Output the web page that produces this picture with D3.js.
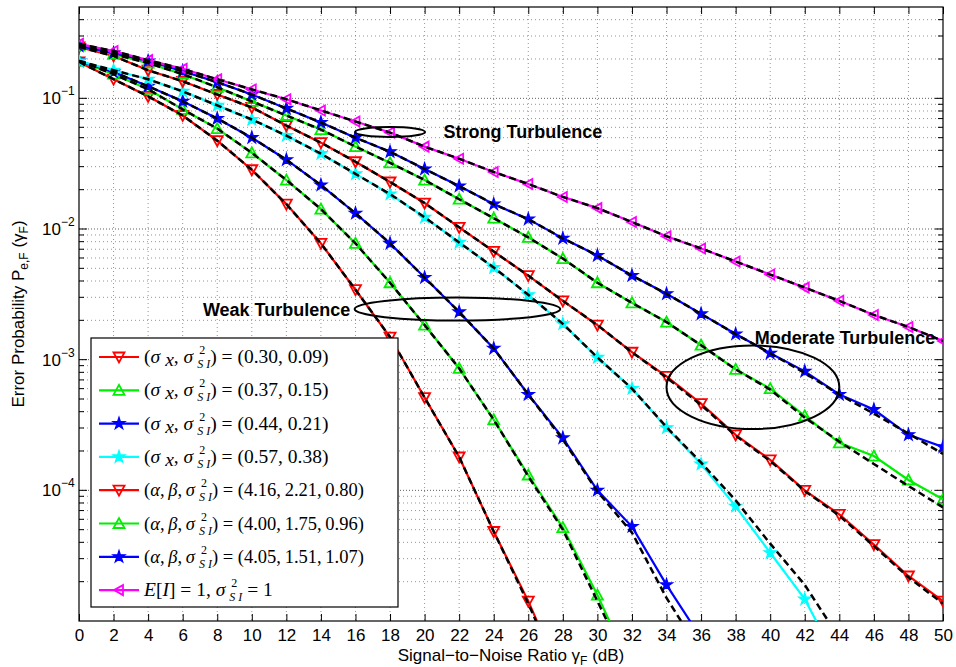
<!DOCTYPE html>
<html>
<head>
<meta charset="utf-8">
<script src="https://d3js.org/d3.v7.min.js"></script>
<style>
  body { margin: 0; background: #fff; }
  text { font-family: "Liberation Sans", Arial, sans-serif; fill: #000; }
  .grid line { stroke: #7a7a7a; stroke-width: 0.8; stroke-dasharray: 1,3; }
  .grid line.major { stroke: #333; stroke-dasharray: 1,2; }
  .tick line { stroke: #000; }
  .legend text { font-family: "Liberation Serif", "DejaVu Serif", serif; }
</style>
</head>
<body>
<div id="chartHere"></div>
<script>

// SNR grid (dB)
var snr = [0, 2, 4, 6, 8, 10, 12, 14, 16, 18, 20, 22, 24, 26, 28, 30, 32, 34, 36, 38, 40, 42, 44, 46, 48, 50];

// simulated error probability
var lnRed   = [0.190, 0.140, 0.1036, 0.0739, 0.0474, 0.0284, 0.0155, 0.00776, 0.00343, 0.00149, 0.000513, 0.000180, 0.0000484, 0.0000142, 0.0000035];
var lnGreen = [0.193, 0.153, 0.1173, 0.0823, 0.0587, 0.0383, 0.0237, 0.0142, 0.00776, 0.00388, 0.00184, 0.000859, 0.000347, 0.000131, 0.0000519, 0.0000158, 0.0000042];
var lnBlue  = [0.193, 0.159, 0.1237, 0.0948, 0.0701, 0.0500, 0.0339, 0.0217, 0.0132, 0.00776, 0.00425, 0.00232, 0.00122, 0.000541, 0.000252, 0.000100, 0.0000528, 0.0000189, 0.0000074];
var lnCyan  = [0.193, 0.164, 0.140, 0.113, 0.0883, 0.0689, 0.0519, 0.0377, 0.0264, 0.0185, 0.0123, 0.00789, 0.00507, 0.00314, 0.00188, 0.00104, 0.000601, 0.000301, 0.000159, 0.0000754, 0.0000333, 0.0000147, 0.0000046];
var ggRed   = [0.247, 0.211, 0.164, 0.135, 0.107, 0.0852, 0.0619, 0.0458, 0.0327, 0.0229, 0.0158, 0.0103, 0.00673, 0.00440, 0.00282, 0.00184, 0.00114, 0.000745, 0.000461, 0.000266, 0.000171, 0.000100, 0.0000655, 0.0000384, 0.0000221, 0.0000142];
var ggGreen = [0.252, 0.218, 0.186, 0.153, 0.1216, 0.0948, 0.0739, 0.0577, 0.0427, 0.0321, 0.0237, 0.0169, 0.0121, 0.00863, 0.00594, 0.00388, 0.00272, 0.00194, 0.00129, 0.000843, 0.000601, 0.000372, 0.000231, 0.000183, 0.000120, 0.0000853];
var ggBlue  = [0.252, 0.222, 0.193, 0.161, 0.133, 0.107, 0.0837, 0.0653, 0.0500, 0.0390, 0.0288, 0.0213, 0.0155, 0.0119, 0.00848, 0.00627, 0.00440, 0.00319, 0.00224, 0.00157, 0.00112, 0.000814, 0.000541, 0.000415, 0.000266, 0.000215];
var negExp  = [0.261, 0.230, 0.196, 0.168, 0.140, 0.117, 0.0985, 0.0808, 0.0665, 0.0547, 0.0427, 0.0345, 0.0273, 0.0221, 0.0176, 0.01445, 0.0113, 0.0088, 0.0071, 0.00564, 0.00448, 0.00356, 0.00282, 0.0022, 0.00178, 0.00139];

// analytical approximations (black dashed)
var lnRedApprox   = [0.190, 0.140, 0.1036, 0.0739, 0.0474, 0.0284, 0.0155, 0.00776, 0.00343, 0.00149, 0.000513, 0.000180, 0.0000484, 0.0000136, 0.0000034];
var lnGreenApprox = [0.193, 0.153, 0.1173, 0.0823, 0.0587, 0.0383, 0.0237, 0.0142, 0.00776, 0.00388, 0.00184, 0.000859, 0.000347, 0.000128, 0.0000500, 0.0000142, 0.0000040];
var lnBlueApprox  = [0.193, 0.159, 0.1237, 0.0948, 0.0701, 0.0500, 0.0339, 0.0217, 0.0132, 0.00776, 0.00425, 0.00232, 0.00122, 0.000541, 0.000245, 0.0000980, 0.0000475, 0.0000150, 0.0000057];
var lnCyanApprox  = [0.193, 0.164, 0.140, 0.113, 0.0883, 0.0689, 0.0519, 0.0377, 0.0264, 0.0185, 0.0123, 0.00789, 0.00507, 0.00314, 0.00188, 0.00104, 0.000601, 0.000305, 0.000163, 0.0000839, 0.0000391, 0.0000189, 0.0000074];
var ggRedApprox   = [0.247, 0.211, 0.164, 0.135, 0.107, 0.0852, 0.0619, 0.0458, 0.0327, 0.0229, 0.0158, 0.0103, 0.00673, 0.00440, 0.00282, 0.00184, 0.00114, 0.000730, 0.000450, 0.000262, 0.000168, 0.0000990, 0.0000640, 0.0000375, 0.0000216, 0.0000136];
var ggGreenApprox = [0.252, 0.218, 0.186, 0.153, 0.1216, 0.0948, 0.0739, 0.0577, 0.0427, 0.0321, 0.0237, 0.0169, 0.0121, 0.00863, 0.00594, 0.00388, 0.00272, 0.00194, 0.00129, 0.000843, 0.000590, 0.000360, 0.000236, 0.000159, 0.000108, 0.0000741];
var ggBlueApprox  = [0.252, 0.222, 0.193, 0.161, 0.133, 0.107, 0.0837, 0.0653, 0.0500, 0.0390, 0.0288, 0.0213, 0.0155, 0.0119, 0.00848, 0.00627, 0.00440, 0.00319, 0.00224, 0.00157, 0.00112, 0.000790, 0.000541, 0.000386, 0.000272, 0.000190];
var negExpApprox  = [0.261, 0.230, 0.196, 0.168, 0.140, 0.117, 0.0985, 0.0808, 0.0665, 0.0547, 0.0427, 0.0345, 0.0273, 0.0221, 0.0176, 0.01445, 0.0113, 0.0088, 0.0071, 0.00564, 0.00448, 0.00356, 0.00282, 0.0022, 0.00178, 0.00139];

// axis ticks
var xTicks = [0, 2, 4, 6, 8, 10, 12, 14, 16, 18, 20, 22, 24, 26, 28, 30, 32, 34, 36, 38, 40, 42, 44, 46, 48, 50];
var yTicks = [1e-1, 1e-2, 1e-3, 1e-4];
var yTickExp = ["\u22121", "\u22122", "\u22123", "\u22124"];

// legend parameter strings
var lnParams = ["(0.30, 0.09)", "(0.37, 0.15)", "(0.44, 0.21)", "(0.57, 0.38)"];
var ggParams = ["(4.16,\u20092.21,\u20090.80)", "(4.00,\u20091.75,\u20090.96)", "(4.05,\u20091.51,\u20091.07)"];

// annotation ellipses: centre [dB, Pe], x radius in dB, y radius in decades
var regions = [
  { name: "Strong Turbulence",   cx: 18.0, cy: 0.0553,  rx: 2.03, ry: 0.038, tx: 21.1, ty: 0.0498,  anchor: "start" },
  { name: "Weak Turbulence",     cx: 21.9, cy: 0.00244, rx: 5.95, ry: 0.088, tx: 15.7, ty: 0.00215, anchor: "end" },
  { name: "Moderate Turbulence", cx: 39.0, cy: 0.000615, rx: 5.0, ry: 0.32,  tx: 39.1, ty: 0.00132, anchor: "start" }
];

var series = [
  { vals: lnRed,   approx: lnRedApprox,   color: "#ff0000", marker: "down" },
  { vals: lnGreen, approx: lnGreenApprox, color: "#00ee00", marker: "up" },
  { vals: lnBlue,  approx: lnBlueApprox,  color: "#0000ff", marker: "star" },
  { vals: lnCyan,  approx: lnCyanApprox,  color: "#00ffff", marker: "star" },
  { vals: ggRed,   approx: ggRedApprox,   color: "#ff0000", marker: "down" },
  { vals: ggGreen, approx: ggGreenApprox, color: "#00ee00", marker: "up" },
  { vals: ggBlue,  approx: ggBlueApprox,  color: "#0000ff", marker: "star" },
  { vals: negExp,  approx: negExpApprox,  color: "#ff00ff", marker: "left" }
];

var W = 956, H = 667;
var box = { left: 79, right: 943, top: 7, bottom: 621 };

var svg = d3.select("#chartHere").append("svg")
    .attr("width", W).attr("height", H);

var x = d3.scaleLinear().domain([0, 50]).range([box.left, box.right]);
var y = d3.scaleLog().domain([1e-5, 0.5]).range([box.bottom, box.top]);

svg.append("clipPath").attr("id", "plotClip")
  .append("rect")
    .attr("x", box.left).attr("y", box.top)
    .attr("width", box.right - box.left).attr("height", box.bottom - box.top);

// ---- grid
var grid = svg.append("g").attr("class", "grid");
var minor = y.ticks().filter(function (d) { return d > 1e-5 && d < 0.5; });
grid.selectAll("line.h").data(minor).enter().append("line")
    .attr("class", function (d) { return yTicks.indexOf(d) >= 0 ? "h major" : "h"; })
    .attr("x1", box.left).attr("x2", box.right)
    .attr("y1", function (d) { return y(d); }).attr("y2", function (d) { return y(d); });
grid.selectAll("line.v").data(xTicks.slice(1, -1)).enter().append("line")
    .attr("class", "v")
    .attr("x1", function (d) { return x(d); }).attr("x2", function (d) { return x(d); })
    .attr("y1", box.top).attr("y2", box.bottom);

// ---- axes (ticks inside, on all four sides)
svg.append("g").attr("transform", "translate(0," + box.bottom + ")")
  .call(d3.axisBottom(x).tickValues(xTicks).tickSize(-7).tickPadding(8))
  .call(function (g) { g.select(".domain").remove(); })
  .selectAll("text").attr("font-size", 17);
svg.append("g").attr("transform", "translate(0," + box.top + ")")
  .call(d3.axisTop(x).tickValues(xTicks).tickSize(-7).tickFormat(""))
  .call(function (g) { g.select(".domain").remove(); });

var ySide = [[box.left, 1], [box.right, -1]];
ySide.forEach(function (s) {
  svg.append("g").selectAll("line").data(minor).enter().append("line")
    .attr("x1", s[0])
    .attr("x2", function (d) { return s[0] + s[1] * (yTicks.indexOf(d) >= 0 ? 8 : 5); })
    .attr("y1", function (d) { return y(d); }).attr("y2", function (d) { return y(d); })
    .attr("stroke", "#000").attr("stroke-width", 1);
});

var yl = svg.append("g").selectAll("text").data(yTicks).enter().append("text")
    .attr("x", box.left - 37).attr("y", function (d) { return y(d) + 6; })
    .attr("font-size", 17).text("10");
yl.append("tspan").attr("font-size", 12).attr("dy", -9)
    .text(function (d, i) { return yTickExp[i]; });

svg.append("rect")
    .attr("x", box.left).attr("y", box.top)
    .attr("width", box.right - box.left).attr("height", box.bottom - box.top)
    .attr("fill", "none").attr("stroke", "#000").attr("stroke-width", 1.2);

// ---- markers
function markerPath(type) {
  if (type === "star") return d3.symbol(d3.symbolStar, 46)();
  if (type === "down") return "M-5.5,-4.5L5.5,-4.5L0,5.5Z";
  if (type === "up") return "M-5.5,4.5L5.5,4.5L0,-5.5Z";
  return "M-5,0L4,-5L4,5Z";
}

// ---- curves
var line = d3.line()
    .x(function (d) { return x(d[0]); })
    .y(function (d) { return y(d[1]); });

var plot = svg.append("g").attr("clip-path", "url(#plotClip)");

series.forEach(function (s) {
  var pts = s.vals.map(function (v, i) { return [snr[i], v]; });
  plot.append("path").datum(pts)
      .attr("d", line).attr("fill", "none")
      .attr("stroke", s.color).attr("stroke-width", 2.2);
  plot.selectAll(null).data(pts).enter().append("path")
      .attr("transform", function (d) { return "translate(" + x(d[0]) + "," + y(d[1]) + ")"; })
      .attr("d", markerPath(s.marker))
      .attr("fill", s.marker === "star" ? s.color : "none")
      .attr("stroke", s.color).attr("stroke-width", s.marker === "star" ? 1.2 : 1.8);
});
series.forEach(function (s) {
  var pts = s.approx.map(function (v, i) { return [snr[i], v]; });
  plot.append("path").datum(pts)
      .attr("d", line).attr("fill", "none")
      .attr("stroke", "#000").attr("stroke-width", 2.5)
      .attr("stroke-dasharray", "7,4");
});

// ---- annotations
var ann = svg.append("g");
regions.forEach(function (r) {
  var cx = x(r.cx), cy = y(r.cy);
  ann.append("ellipse")
      .attr("cx", cx).attr("cy", cy)
      .attr("rx", x(r.cx + r.rx) - cx)
      .attr("ry", y(r.cy) - y(r.cy * Math.pow(10, r.ry)))
      .attr("fill", "none").attr("stroke", "#000").attr("stroke-width", 2);
  ann.append("text")
      .attr("x", x(r.tx)).attr("y", y(r.ty))
      .attr("text-anchor", r.anchor)
      .attr("font-size", 18).attr("font-weight", "bold")
      .text(r.name);
});

// ---- legend
var lg = svg.append("g").attr("class", "legend");
lg.append("rect").attr("x", 91).attr("y", 338).attr("width", 307).attr("height", 269)
    .attr("fill", "#fff").attr("stroke", "#000").attr("stroke-width", 1.2);

// sigma with stacked ^2 and _{S I}
function sigmaSI(t) {
  t.append("tspan").attr("font-style", "italic").text("\u03c3");
  t.append("tspan").attr("font-size", 12).attr("dx", 6).attr("dy", -9).text("2");
  t.append("tspan").attr("font-size", 12).attr("font-style", "italic").attr("dx", -8).attr("dy", 14).text("S I");
}

series.forEach(function (s, i) {
  var cy = 357 + i * 33.3;
  lg.append("line").attr("x1", 99).attr("x2", 139).attr("y1", cy).attr("y2", cy)
      .attr("stroke", s.color).attr("stroke-width", 2.2);
  lg.append("path").attr("transform", "translate(119," + cy + ")")
      .attr("d", markerPath(s.marker))
      .attr("fill", s.marker === "star" ? s.color : "none")
      .attr("stroke", s.color).attr("stroke-width", s.marker === "star" ? 1.2 : 1.8);
  var t = lg.append("text").attr("x", 144).attr("y", cy + 6)
      .attr("font-size", (i >= 4 && i < 7) ? 18.5 : 19.5);
  if (i < 4) {
    t.append("tspan").text("(");
    t.append("tspan").attr("font-style", "italic").text("\u03c3");
    t.append("tspan").attr("font-style", "italic").attr("dx", 5).attr("dy", 3).text("x");
    t.append("tspan").attr("dy", -3).text(", ");
    sigmaSI(t);
    t.append("tspan").attr("dy", -5).text(") = " + lnParams[i]);
  } else if (i < 7) {
    t.append("tspan").text("(");
    t.append("tspan").attr("font-style", "italic").text("\u03b1");
    t.append("tspan").text(",\u2009");
    t.append("tspan").attr("font-style", "italic").text("\u03b2");
    t.append("tspan").text(",\u2009");
    sigmaSI(t);
    t.append("tspan").attr("dy", -5).text(") = " + ggParams[i - 4]);
  } else {
    t.append("tspan").attr("font-style", "italic").text("E");
    t.append("tspan").text("[");
    t.append("tspan").attr("font-style", "italic").text("I");
    t.append("tspan").text("] = 1, ");
    sigmaSI(t);
    t.append("tspan").attr("dy", -5).text(" = 1");
  }
});

// ---- axis titles
var xt = svg.append("text").attr("x", (box.left + box.right) / 2).attr("y", 661)
    .attr("text-anchor", "middle").attr("font-size", 17)
    .text("Signal\u2212to\u2212Noise Ratio \u03b3");
xt.append("tspan").attr("font-size", 12).attr("dy", 4).text("F");
xt.append("tspan").attr("dy", -4).text(" (dB)");

var ytl = svg.append("text")
    .attr("transform", "translate(24," + ((box.top + box.bottom) / 2) + ") rotate(-90)")
    .attr("text-anchor", "middle").attr("font-size", 17)
    .text("Error Probability P");
ytl.append("tspan").attr("font-size", 12).attr("dy", 4).text("e,F");
ytl.append("tspan").attr("dy", -4).text(" (\u03b3");
ytl.append("tspan").attr("font-size", 12).attr("dy", 4).text("F");
ytl.append("tspan").attr("dy", -4).text(")");

</script>
</body>
</html>
